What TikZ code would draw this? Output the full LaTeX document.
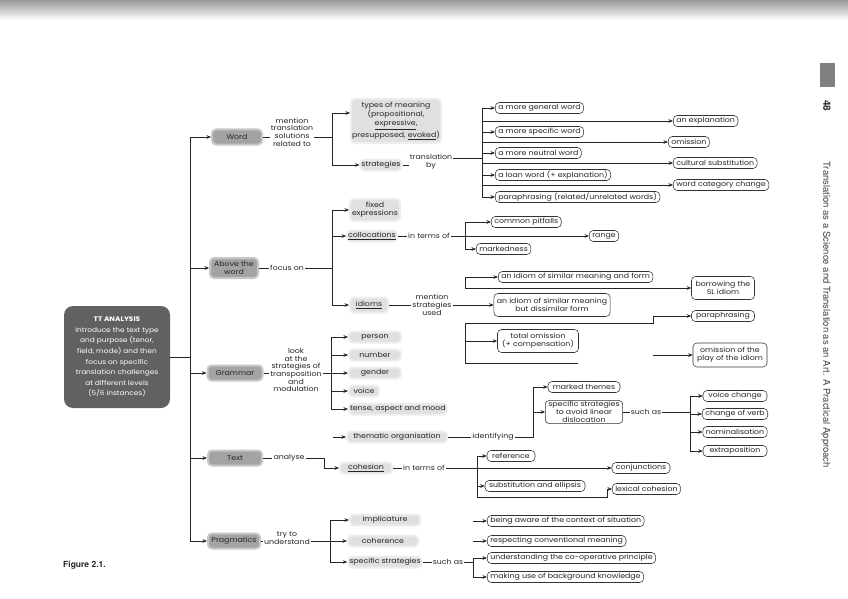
\documentclass[tikz,border=0pt]{standalone}
\usepackage{fontspec}
\setmainfont{Poppins}[FakeStretch=1.12]
\newfontfamily\helv{TeX Gyre Heros}
\usetikzlibrary{arrows.meta}
\begin{document}
\begin{tikzpicture}[x=1pt,y=-1pt,
  every node/.style={font=\fontsize{7}{7.7}\selectfont, inner sep=1pt, text=black!85},
  cat/.style={fill=black!36, draw=black!22, line width=2pt, rounded corners=4pt, align=center, minimum height=15pt},
  sub/.style={fill=black!12, draw=black!7, line width=2pt, rounded corners=4pt, align=center, minimum height=11pt},
  leaf/.style={draw=black!80, line width=0.55pt, rounded corners=4pt, fill=white, align=center, inner xsep=3pt, inner ysep=1.2pt, minimum height=11pt},
  lbl/.style={align=center},
  ln/.style={line width=0.55pt, draw=black!85},
  arr/.style={ln, -{Stealth[length=4.5pt,width=3.6pt]}},
]
\useasboundingbox (0,0) rectangle (848,599);
\shade[top color=black!40, bottom color=white] (0,0) rectangle (848,20);

% ---- TT box and trunk
\node[fill=black!62, rounded corners=9pt, minimum width=106, minimum height=102, align=center, text=white, font=\fontsize{6.6}{10.6}\selectfont] (tt) at (117,357)
  {\textbf{TT ANALYSIS}\\Introduce the text type\\and purpose (tenor,\\field, mode) and then\\focus on specific\\translation challenges\\at different levels\\(5/6 instances)};
\coordinate (T) at (190,0);
\coordinate (Tt) at (190,137);
\coordinate (Tb) at (190,541);
\draw[ln] (Tt) -- (Tb);
\draw[ln] (tt.east) -- (T |- tt);

% ---- Word
\node[cat, minimum width=50] (word) at (237,137) {Word};
\draw[arr] (Tt) -- (word);
\node[lbl] (l1) at (292,132) {mention\\translation\\solutions\\related to};
\draw[ln] (word) -- (word -| l1.west);
\coordinate (B1) at (332,0);
\draw[ln] (word -| l1.east) -- (B1 |- word);
\node[sub, minimum width=90, minimum height=44, font=\fontsize{7}{9}\selectfont] (types) at (396,121)
  {types of meaning\\(propositional,\\\underline{expressive},\\presupposed, \underline{evoked})};
\node[sub, minimum width=38] (strat) at (381,165) {strategies};
\coordinate (ty) at (332,113);
\draw[ln] (ty) -- (B1 |- strat);
\draw[arr] (ty) -- (ty -| types.west);
\draw[arr] (B1 |- strat) -- (strat);
\node[lbl] (tb) at (431,162) {translation\\by};
\draw[ln] (strat) -- (strat -| tb.west);
\coordinate (B2) at (482,0);
\draw[ln] (tb.east |- 0,158) -- (B2 |- 0,158);
\node[leaf, anchor=west] (gw) at (495,108) {a more general word};
\node[leaf, anchor=west] (sw) at (495,132) {a more specific word};
\node[leaf, anchor=west] (nw) at (495,153) {a more neutral word};
\node[leaf, anchor=west] (lw) at (495,175) {a loan word (+ explanation)};
\node[leaf, anchor=west] (pw) at (495,197) {paraphrasing (related/unrelated words)};
\node[leaf, anchor=west] (ex) at (673,121) {an explanation};
\node[leaf, anchor=west] (om) at (668,142) {omission};
\node[leaf, anchor=west] (cs) at (673,163) {cultural substitution};
\node[leaf, anchor=west] (wc) at (673,185) {word category change};
\draw[ln] (B2 |- gw) -- (B2 |- pw);
\foreach \n in {gw,sw,nw,lw,pw,ex,om,cs,wc} \draw[arr] (B2 |- \n) -- (\n.west);

% ---- Above the word
\node[cat, minimum width=48, minimum height=20] (above) at (234,268) {Above the\\word};
\draw[arr] (T |- above) -- (above);
\node[lbl] (fo) at (287,268) {focus on};
\draw[ln] (above) -- (above -| fo.west);
\coordinate (B3) at (332,0);
\draw[ln] (above -| fo.east) -- (B3 |- above);
\node[sub, minimum width=50, minimum height=22] (fixed) at (375,210) {fixed\\expressions};
\node[sub, minimum width=48] (coll) at (372,236) {\underline{collocations}};
\node[sub, minimum width=38, minimum height=15] (idioms) at (369,305) {\underline{idioms}};
\draw[ln] (B3 |- fixed) -- (B3 |- idioms);
\foreach \n in {fixed,coll,idioms} \draw[arr] (B3 |- \n) -- (\n.west);
\node[lbl] (it1) at (429,236) {in terms of};
\draw[ln] (coll) -- (it1);
\coordinate (B4) at (465,0);
\draw[ln] (it1) -- (B4 |- it1);
\node[leaf, anchor=west] (cp) at (491,222) {common pitfalls};
\node[leaf, anchor=west] (rg) at (589,236) {range};
\node[leaf, anchor=west] (mk) at (476,249) {markedness};
\draw[ln] (B4 |- cp) -- (B4 |- mk);
\foreach \n in {cp,rg,mk} \draw[arr] (B4 |- \n) -- (\n.west);

\node[lbl] (ms) at (432,305) {mention\\strategies\\used};
\draw[ln] (idioms) -- (idioms -| ms.west);
\node[leaf, minimum width=110, minimum height=23] (id2) at (552,305) {an idiom of similar meaning\\but dissimilar form};
\draw[arr] (idioms -| ms.east) -- (id2);
\coordinate (B5) at (465,0);
\node[leaf, anchor=west] (id1) at (498,277) {an idiom of similar meaning and form};
\node[leaf, minimum width=81, minimum height=23] (id3) at (538,341) {total omission\\(+ compensation)};
\node[leaf, minimum width=63, minimum height=23] (bor) at (723,288) {borrowing the\\SL idiom};
\node[leaf, minimum width=63] (par) at (723,316) {paraphrasing};
\node[leaf, minimum width=74, minimum height=24] (omp) at (730,355) {omission of the\\play of the idiom};
\draw[arr] (B5 |- id1) -- (id1.west);
\draw[ln] (B5 |- id1) -- (B5 |- bor);
\draw[arr] (B5 |- bor) -- (bor.west);
\coordinate (k1) at (465,323);
\coordinate (k2) at (653,323);
\coordinate (k3) at (465,363);
\coordinate (k4) at (578,363);
\coordinate (k5) at (653,355);
\draw[arr] (k1) -- (k2) |- (par.west);
\draw[ln] (k1) -- (k3) -- (k4);
\draw[arr] (B5 |- id3) -- (id3.west);
\draw[arr] (k5) -- (omp.west);

% ---- Grammar
\node[cat, minimum width=55] (gram) at (235,373) {Grammar};
\draw[arr] (T |- gram) -- (gram);
\node[lbl] (gl) at (296,370) {look\\at the\\strategies of\\transposition\\and\\modulation};
\draw[ln] (gram) -- (gram -| gl.west);
\coordinate (B6) at (331,0);
\draw[ln] (gram -| gl.east) -- (B6 |- gram);
\node[sub, minimum width=52, anchor=west] (pers) at (348,337) {person};
\node[sub, minimum width=52, anchor=west] (numb) at (348,355) {number};
\node[sub, minimum width=52, anchor=west] (gend) at (348,373) {gender};
\node[sub, minimum width=30, anchor=west] (voic) at (348,391) {voice};
\node[sub, anchor=west] (tens) at (348,409) {tense, aspect and mood};
\draw[ln] (B6 |- pers) -- (B6 |- tens);
\foreach \n in {pers,numb,gend,voic,tens} \draw[arr] (B6 |- \n) -- (\n.west);

% ---- Text
\node[cat, minimum width=54] (txt) at (235,458) {Text};
\draw[arr] (T |- txt) -- (txt);
\node[lbl] (an) at (289,458) {analyse};
\draw[ln] (txt) -- (an);
\coordinate (B7) at (324,0);
\node[sub, minimum width=100] (them) at (397,437) {thematic organisation};
\node[sub, minimum width=52] (coh) at (366,468) {\underline{cohesion}};
\draw[ln] (an) -- (B7 |- an) -- (B7 |- coh);
\draw[arr] (B7 |- coh) -- (coh);
\coordinate (k6) at (333,437);
\draw[arr] (k6) -- (them);
\node[lbl] (idf) at (493,437) {identifying};
\draw[ln] (them) -- (idf);
\coordinate (B8) at (533,0);
\node[leaf, minimum width=72] (mt) at (584,387) {marked themes};
\node[leaf, minimum width=72] (ss) at (584,412) {specific strategies\\to avoid linear\\dislocation};
\draw[ln] (idf) -- (B8 |- idf) -- (B8 |- mt);
\foreach \n in {mt,ss} \draw[arr] (B8 |- \n) -- (\n.west);
\node[lbl] (sa) at (646,412) {such as};
\draw[ln] (ss) -- (sa);
\coordinate (B9) at (690,0);
\draw[ln] (sa) -- (B9 |- sa);
\node[leaf, minimum width=64] (vc) at (735,396) {voice change};
\node[leaf, minimum width=64] (cv) at (735,414) {change of verb};
\node[leaf, minimum width=64] (nm) at (735,432) {nominalisation};
\node[leaf, minimum width=64] (xp) at (735,451) {extraposition};
\draw[ln] (B9 |- vc) -- (B9 |- xp);
\foreach \n in {vc,cv,nm,xp} \draw[arr] (B9 |- \n) -- (\n.west);

\node[lbl] (it2) at (424,468) {in terms of};
\draw[ln] (coh) -- (it2);
\coordinate (B10) at (477,0);
\node[leaf, minimum width=48] (ref) at (511,456) {reference};
\node[leaf, minimum width=58] (cj) at (641,468) {conjunctions};
\node[leaf, minimum width=100] (sub2) at (535,486) {substitution and ellipsis};
\node[leaf, minimum width=58, anchor=west] (lc) at (612,489) {lexical cohesion};
\draw[arr] (it2) -- (cj);
\coordinate (k7) at (477,497);
\coordinate (k8) at (607,497);
\draw[ln] (B10 |- ref) -- (k7);
\foreach \n in {ref,sub2} \draw[arr] (B10 |- \n) -- (\n.west);
\draw[arr] (k7) -- (k8) |- (lc.west);

% ---- Pragmatics
\node[cat, minimum width=52] (prag) at (234,541) {Pragmatics};
\draw[arr] (Tb) -- (prag);
\node[lbl] (tu) at (287,538) {try to\\understand};
\draw[ln] (prag) -- (prag -| tu.west);
\coordinate (B11) at (330,0);
\draw[ln] (prag -| tu.east) -- (B11 |- prag);
\node[sub, minimum width=70] (imp) at (385,520) {implicature};
\node[sub, minimum width=70] (coh2) at (383,541) {coherence};
\node[sub, minimum width=68] (ss2) at (385,562) {specific strategies};
\draw[ln] (B11 |- imp) -- (B11 |- ss2);
\foreach \n in {imp,coh2,ss2} \draw[arr] (B11 |- \n) -- (\n.west);
\node[lbl] (sa2) at (448,562) {such as};
\draw[ln] (ss2) -- (sa2);
\coordinate (B12) at (473,0);
\draw[ln] (sa2) -- (B12 |- sa2);
\node[leaf, anchor=west] (ba) at (487,521) {being aware of the context of situation};
\node[leaf, anchor=west] (rc) at (487,541) {respecting conventional meaning};
\node[leaf, anchor=west] (up) at (487,558) {understanding the co-operative principle};
\node[leaf, anchor=west] (mu) at (487,577) {making use of background knowledge};
\draw[ln] (B12 |- up) -- (B12 |- mu);
\foreach \n in {ba,rc,up,mu} \draw[arr] (B12 |- \n) -- (\n.west);

% ---- page furniture
\fill[black!50] (820,63) rectangle (835,87);
\node[rotate=-90, font=\helv\bfseries\fontsize{10}{12}\selectfont] (pg) at (827,106) {48};
\node[rotate=-90, font=\helv\fontsize{9.5}{11}\selectfont, text=black!75] (side) at (826,315) {Translation as a Science and Translation as an Art. A Practical Approach};
\node[anchor=west, font=\helv\bfseries\fontsize{8.5}{10}\selectfont] (fig) at (62,565) {Figure 2.1.};
\end{tikzpicture}
\end{document}
